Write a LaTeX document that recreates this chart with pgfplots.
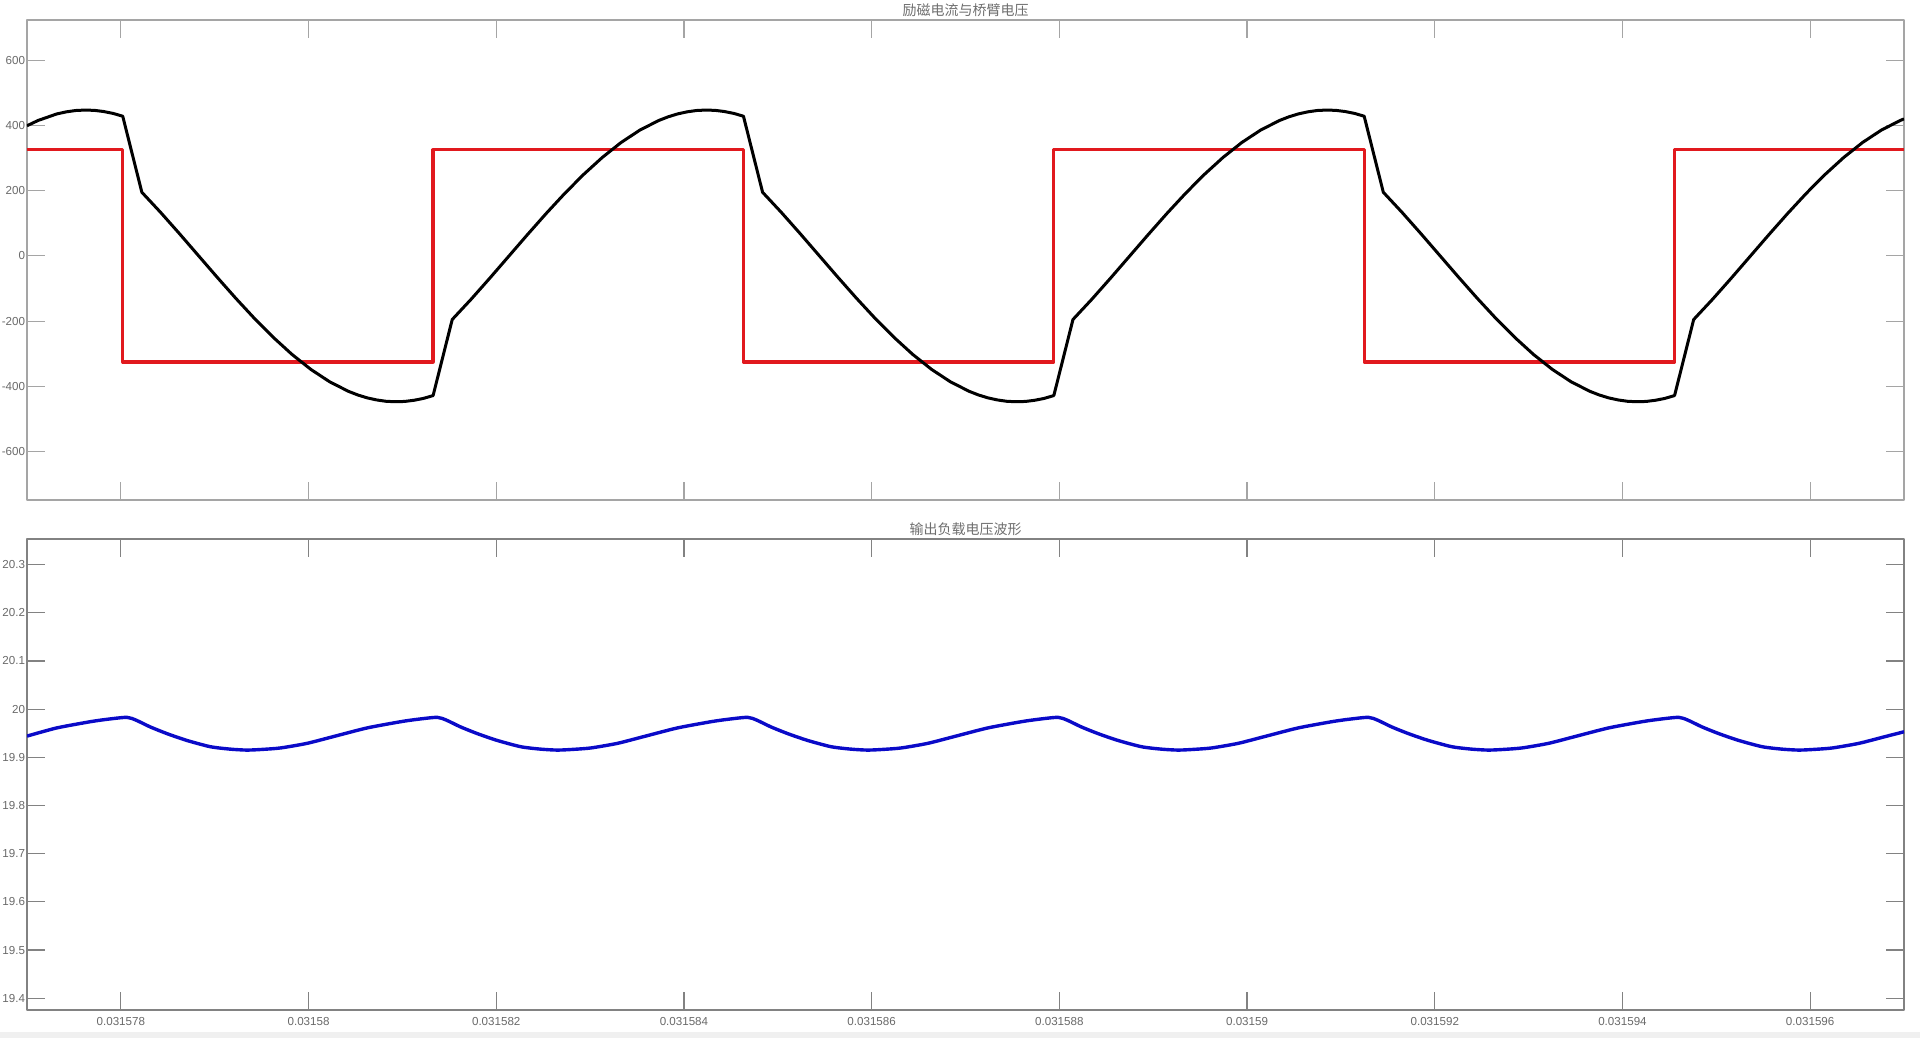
\documentclass[border=0pt]{standalone}
\usepackage{fontspec}
\setmainfont{Liberation Sans}
\newfontfamily\cjk{Noto Sans CJK SC}
\usepackage{pgfplots}
\pgfplotsset{compat=1.18}
\definecolor{axtop}{RGB}{165,165,165}
\definecolor{axbot}{RGB}{130,130,130}
\definecolor{lbl}{RGB}{105,105,105}
\definecolor{ttl}{RGB}{110,110,110}
\definecolor{sqred}{RGB}{225,25,30}
\definecolor{vblue}{RGB}{10,10,200}
\begin{document}
\begin{tikzpicture}
\useasboundingbox (0,0) rectangle (960pt,519pt);
\fill[black!6] (0,0) rectangle (960pt,3pt);
\pgfplotsset{
  common/.style={
    scale only axis, width=938.5pt,
    xmin=0, xmax=20,
    xtick={1,3,5,7,9,11,13,15,17,19},
    tick align=inside, tick pos=both, major tick length=9pt,
    ticklabel style={font=\fontsize{5.8}{7}\selectfont, text=lbl},
    yticklabel style={inner xsep=0.8pt},
    every axis title shift=0pt,
    title style={font=\cjk\fontsize{7}{8}\selectfont, text=ttl, at={(0.5,1)}, anchor=south, inner sep=1.5pt},
    line join=round,
  }
}
% top axis
\begin{axis}[common,
  at={(13.5pt,269pt)}, anchor=south west, height=240pt,
  ymin=-748, ymax=723,
  xticklabels={},
  ytick={-600,-400,-200,0,200,400,600},
  yticklabels={-600,-400,-200,0,200,400,600},
  axis line style={draw=axtop, line width=0.7pt},
  tick style={draw=axtop, line width=0.6pt},
  title={励磁电流与桥臂电压},
]
\addplot[sqred, line width=1.6pt] coordinates {
(0,325) (1.020,325) (1.020,-325) (4.327,-325) (4.327,325) (7.634,325)
(7.634,-325) (10.941,-325) (10.941,325) (14.248,325) (14.248,-325)
(17.555,-325) (17.555,325) (20,325)
};
\addplot[black, line width=1.5pt] coordinates {
(0,398.8) (0.117,414.9) (0.317,435.0) (0.417,441.3) (0.517,445.5) (0.617,446.9) (0.717,446.0) (0.817,442.4) (0.917,436.7) (1.020,428.0)
(1.224,194.9) (1.424,133.2) (1.624,68.3) (1.824,1.8) (2.024,-64.7) (2.224,-129.7)
(2.424,-191.8) (2.624,-249.6) (2.824,-302.0) (3.024,-347.7) (3.224,-385.6)
(3.424,-414.9) (3.524,-426.1) (3.624,-435.0) (3.724,-441.3) (3.824,-445.5) (3.924,-446.9) (4.024,-446.0) (4.124,-442.4) (4.224,-436.7) (4.327,-428.0)
(4.531,-194.9) (4.731,-133.2) (4.931,-68.3) (5.131,-1.8) (5.331,64.7) (5.531,129.7)
(5.731,191.8) (5.931,249.6) (6.131,302.0) (6.331,347.7) (6.531,385.6)
(6.731,414.9) (6.831,426.1) (6.931,435.0) (7.031,441.3) (7.131,445.5) (7.231,446.9) (7.331,446.0) (7.431,442.4) (7.531,436.7) (7.634,428.0)
(7.838,194.9) (8.038,133.2) (8.238,68.3) (8.438,1.8) (8.638,-64.7) (8.838,-129.7)
(9.038,-191.8) (9.238,-249.6) (9.438,-302.0) (9.638,-347.7) (9.838,-385.6)
(10.038,-414.9) (10.138,-426.1) (10.238,-435.0) (10.338,-441.3) (10.438,-445.5) (10.538,-446.9) (10.638,-446.0) (10.738,-442.4) (10.838,-436.7) (10.941,-428.0)
(11.145,-194.9) (11.345,-133.2) (11.545,-68.3) (11.745,-1.8) (11.945,64.7) (12.145,129.7)
(12.345,191.8) (12.545,249.6) (12.745,302.0) (12.945,347.7) (13.145,385.6)
(13.345,414.9) (13.445,426.1) (13.545,435.0) (13.645,441.3) (13.745,445.5) (13.845,446.9) (13.945,446.0) (14.045,442.4) (14.145,436.7) (14.248,428.0)
(14.452,194.9) (14.652,133.2) (14.852,68.3) (15.052,1.8) (15.252,-64.7) (15.452,-129.7)
(15.652,-191.8) (15.852,-249.6) (16.052,-302.0) (16.252,-347.7) (16.452,-385.6)
(16.652,-414.9) (16.752,-426.1) (16.852,-435.0) (16.952,-441.3) (17.052,-445.5) (17.152,-446.9) (17.252,-446.0) (17.352,-442.4) (17.452,-436.7) (17.555,-428.0)
(17.759,-194.9) (17.959,-133.2) (18.159,-68.3) (18.359,-1.8) (18.559,64.7) (18.759,129.7)
(18.959,191.8) (19.159,249.6) (19.359,302.0) (19.559,347.7) (19.759,385.6)
(19.959,414.9) (20.000,419.8)
};
\end{axis}
% bottom axis
\begin{axis}[common,
  at={(13.5pt,14pt)}, anchor=south west, height=235.6pt,
  ymin=19.3756, ymax=20.3535,
  xticklabels={0.031578,0.03158,0.031582,0.031584,0.031586,0.031588,0.03159,0.031592,0.031594,0.031596},
  ytick={19.4,19.5,19.6,19.7,19.8,19.9,20,20.1,20.2,20.3},
  yticklabels={19.4,19.5,19.6,19.7,19.8,19.9,20,20.1,20.2,20.3},
  axis line style={draw=axbot, line width=0.7pt},
  tick style={draw=axbot, line width=0.6pt},
  title={输出负载电压波形},
]
\addplot[vblue, line width=1.7pt, smooth, tension=0.4] coordinates {
(0,19.944) (0.317,19.961) (0.677,19.974) (0.857,19.979)
(1.064,19.983) (1.164,19.977) (1.314,19.963) (1.494,19.949) (1.704,19.935) (1.954,19.922)
(2.164,19.917) (2.344,19.915) (2.514,19.9165) (2.704,19.9195) (2.984,19.929) (3.264,19.943)
(3.624,19.961) (3.984,19.974) (4.164,19.979)
(4.371,19.983) (4.471,19.977) (4.621,19.963) (4.801,19.949) (5.011,19.935) (5.261,19.922)
(5.471,19.917) (5.651,19.915) (5.821,19.9165) (6.011,19.9195) (6.291,19.929) (6.571,19.943)
(6.931,19.961) (7.291,19.974) (7.471,19.979)
(7.678,19.983) (7.778,19.977) (7.928,19.963) (8.108,19.949) (8.318,19.935) (8.568,19.922)
(8.778,19.917) (8.958,19.915) (9.128,19.9165) (9.318,19.9195) (9.598,19.929) (9.878,19.943)
(10.238,19.961) (10.598,19.974) (10.778,19.979)
(10.985,19.983) (11.085,19.977) (11.235,19.963) (11.415,19.949) (11.625,19.935) (11.875,19.922)
(12.085,19.917) (12.265,19.915) (12.435,19.9165) (12.625,19.9195) (12.905,19.929) (13.185,19.943)
(13.545,19.961) (13.905,19.974) (14.085,19.979)
(14.292,19.983) (14.392,19.977) (14.542,19.963) (14.722,19.949) (14.932,19.935) (15.182,19.922)
(15.392,19.917) (15.572,19.915) (15.742,19.9165) (15.932,19.9195) (16.212,19.929) (16.492,19.943)
(16.852,19.961) (17.212,19.974) (17.392,19.979)
(17.599,19.983) (17.699,19.977) (17.849,19.963) (18.029,19.949) (18.239,19.935) (18.489,19.922)
(18.699,19.917) (18.879,19.915) (19.049,19.9165) (19.239,19.9195) (19.519,19.929) (19.799,19.943)
(20,19.953)
};
\end{axis}
\end{tikzpicture}
\end{document}
